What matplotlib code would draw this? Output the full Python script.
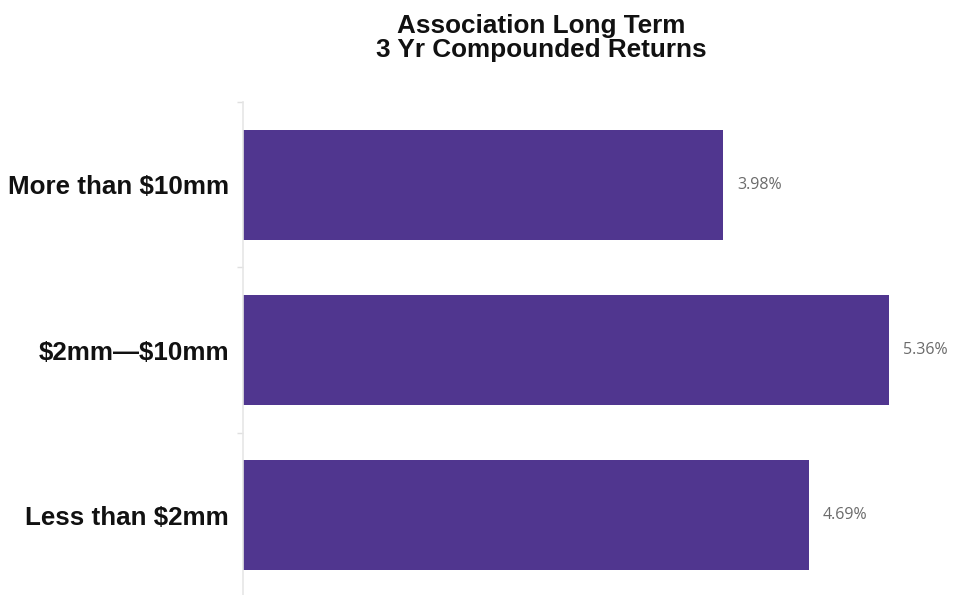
import matplotlib.pyplot as plt
import numpy as np

# data (top to bottom)
categories = ['More than \\$10mm', '\\$2mm\u2014\\$10mm', 'Less than \\$2mm']
returns = [3.98, 5.36, 4.69]
value_labels = ['3.98%', '5.36%', '4.69%']

bar_color = '#50368f'

fig = plt.figure(figsize=(9.57, 5.95), dpi=100)
W, H = 957, 595
# axes placed in pixel terms: x=0 at 243 px, bands from 102 px down to 598 px
ax = fig.add_axes([243 / W, 1 - 598 / H, 711 / W, (598 - 102) / H])

y = np.arange(len(categories))
ax.barh(y, returns, height=0.667, color=bar_color, zorder=2)

for yi, v, lab in zip(y, returns, value_labels):
    ax.text(v + 0.115, yi, lab, va='center', ha='left',
            fontsize=11.5, color='#6b6b6b', family=['Open Sans', 'DejaVu Sans'])

ax.set_xlim(0, 711 / 120.6)
ax.set_ylim(len(categories) - 0.5, -0.5)

ax.set_yticks(y)
ax.set_yticklabels(categories, fontsize=18.7, fontweight='bold',
                   family=['Liberation Sans', 'DejaVu Sans'], color='#111111')
ax.tick_params(axis='y', which='major', length=0, pad=10)
ax.set_yticks(np.arange(-0.5, len(categories)), minor=True)
ax.tick_params(axis='y', which='minor', length=4, width=1, color='#e0e0e0')
ax.set_xticks([])

for s in ['top', 'right', 'bottom']:
    ax.spines[s].set_visible(False)
ax.spines['left'].set_color('#e6e6e6')
ax.spines['left'].set_linewidth(1.2)

fig.text(541 / W, 1 - 14 / H, 'Association Long Term\n3 Yr Compounded Returns',
         ha='center', va='top', fontsize=18.8, fontweight='bold',
         family=['Liberation Sans', 'DejaVu Sans'], color='#111111',
         linespacing=1.02)

fig.savefig('out.png', dpi=100)
